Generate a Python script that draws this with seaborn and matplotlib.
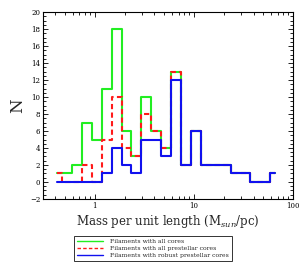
import numpy as np
import pandas as pd
import matplotlib
matplotlib.use("Agg")
import matplotlib.pyplot as plt
import seaborn as sns
from matplotlib.ticker import MultipleLocator

# bin centres (log10 of mass per unit length, Msun/pc)
log_centres = [-0.383, -0.283, -0.183, -0.083, 0.017, 0.117, 0.217, 0.317,
               0.417, 0.517, 0.617, 0.717, 0.817, 0.917, 1.017, 1.117,
               1.217, 1.317, 1.417, 1.517, 1.617, 1.717, 1.817]
all_cores = [1, 1, 2, 7, 5, 11, 18, 6, 3, 10, 6, 4, 13, 2, 6, 2, 2, 2, 1, 1, 0, 0, 1]
all_prestellar = [1, 0, 0, 2, 0, 5, 10, 4, 3, 8, 6, 4, 13, 2, 6, 2, 2, 2, 1, 1, 0, 0, 1]
robust_prestellar = [0, 0, 0, 0, 0, 1, 4, 2, 1, 5, 5, 3, 12, 2, 6, 2, 2, 2, 1, 1, 0, 0, 1]
series_names = ["Filaments with all cores",
                "Filaments with all prestellar cores",
                "Filaments with robust prestellar cores"]
y_ticks = [-2, 0, 2, 4, 6, 8, 10, 12, 14, 16, 18, 20]

sns.set_theme(style="ticks")
plt.rcParams["font.family"] = ["DejaVu Serif"]
plt.rcParams["mathtext.fontset"] = "dejavuserif"

fig = plt.figure(figsize=(3.06, 2.67), dpi=100)
ax = fig.add_axes([0.1405, 0.2547, 0.817, 0.7003])

x = 10 ** np.array(log_centres)
df = pd.DataFrame({"x": x, "all": all_cores, "pre": all_prestellar, "rob": robust_prestellar})

sns.lineplot(data=df, x="x", y="all", ax=ax, color="#22ee22", lw=1.5,
             drawstyle="steps-mid", label=series_names[0], sort=False)
sns.lineplot(data=df, x="x", y="pre", ax=ax, color="#ff1a1a", lw=1.5,
             drawstyle="steps-mid", label=series_names[1], sort=False,
             dashes=False)
ax.lines[-1].set_dashes((2.5, 1.6))
sns.lineplot(data=df, x="x", y="rob", ax=ax, color="#1111ee", lw=1.5,
             drawstyle="steps-mid", label=series_names[2], sort=False)

ax.set_xscale("log")
ax.set_xlim(0.3, 100)
ax.set_ylim(-2, 20)
ax.set_yticks(y_ticks)
ax.yaxis.set_minor_locator(MultipleLocator(0.5))
ax.set_xticks([1, 10, 100])
ax.set_xticklabels(["1", "10", "100"])
ax.tick_params(which="both", direction="in", top=True, right=True,
               labelsize=5, width=0.6, colors="black", pad=2)
ax.tick_params(which="major", length=3.6)
ax.tick_params(which="minor", length=2)
for s in ax.spines.values():
    s.set_linewidth(0.8)
    s.set_color("black")

ax.set_xlabel(r"Mass per unit length (M$_{\it sun}$/pc)", fontsize=8.5, labelpad=2)
ax.set_ylabel("N", fontsize=12, labelpad=3)

handles, labels = ax.get_legend_handles_labels()
ax.get_legend().remove()
leg = fig.legend(handles, labels, loc="upper left",
                 bbox_to_anchor=(74 / 306, 1 - 236 / 267),
                 fontsize=4.4, frameon=True, fancybox=False, handlelength=4.2,
                 borderpad=0.5, labelspacing=0.25, handletextpad=1.2,
                 borderaxespad=0)
leg.get_frame().set_edgecolor("black")
leg.get_frame().set_linewidth(0.7)
for line in leg.get_lines():
    line.set_linewidth(1.0)

fig.savefig("out.png", dpi=100)
